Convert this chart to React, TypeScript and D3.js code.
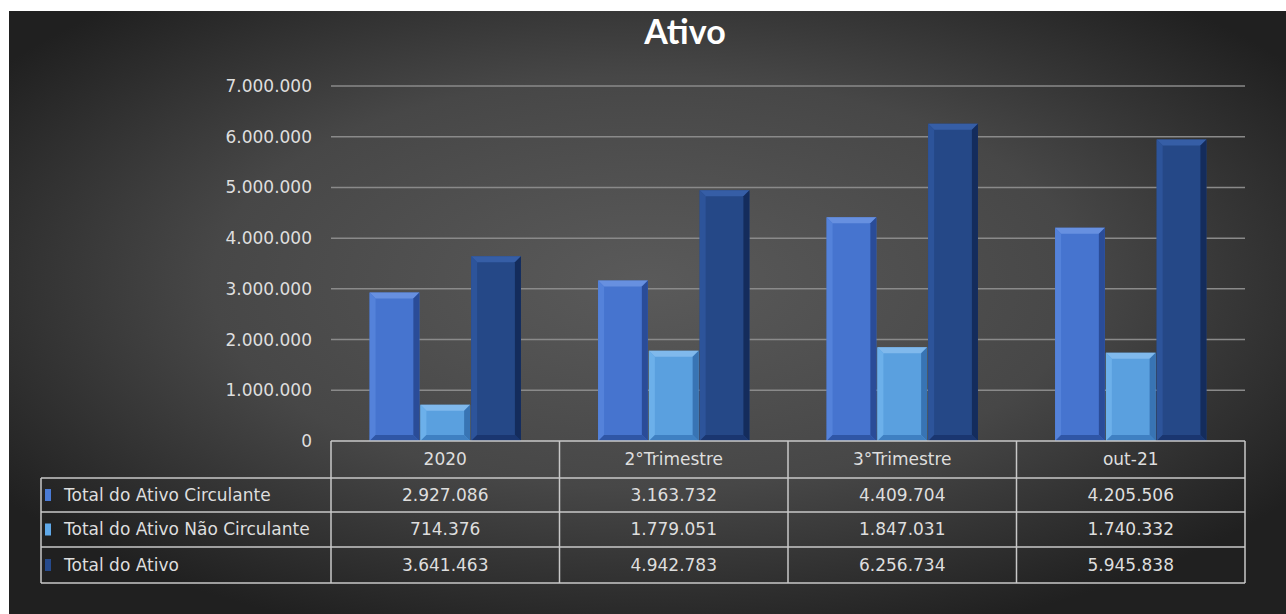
import React from "react";
import * as d3 from "d3";

const categories = ["2020", "2°Trimestre", "3°Trimestre", "out-21"];
const seriesNames = ["Total do Ativo Circulante", "Total do Ativo Não Circulante", "Total do Ativo"];
const circulante = [2927086, 3163732, 4409704, 4205506];
const naoCirculante = [714376, 1779051, 1847031, 1740332];
const totalAtivo = [3641463, 4942783, 6256734, 5945838];
const yTicks = [0, 1000000, 2000000, 3000000, 4000000, 5000000, 6000000, 7000000];

const seriesValues = [circulante, naoCirculante, totalAtivo];
const palette = [
  { face: "#4674cf", top: "#6790e0", left: "#5482da", right: "#2a4c98", bottom: "#2f56a6", key: "#4a7bd6" },
  { face: "#5aa0df", top: "#80b9ec", left: "#6cb0ea", right: "#3874b4", bottom: "#3f80c2", key: "#5fa8e8" },
  { face: "#254887", top: "#365ea6", left: "#2d549a", right: "#142c5c", bottom: "#1a3670", key: "#264a8c" },
];

const W = 1286, H = 614;
const plotL = 331, plotR = 1245, plotT = 86, plotB = 441;
const tableL = 41;
const rowTops = [441, 478, 512, 547, 583];

const loc = d3.formatLocale({ decimal: ",", thousands: ".", grouping: [3], currency: ["", ""] });
const fmt = loc.format(",d");

function Bar({ x, y, w, h, c }: { x: number; y: number; w: number; h: number; c: any }) {
  const b = Math.min(6, h / 2);
  const x2 = x + w, y2 = y + h;
  return (
    <g>
      <rect x={x} y={y} width={w} height={h} fill={c.face} />
      <polygon points={`${x},${y} ${x2},${y} ${x2 - b},${y + b} ${x + b},${y + b}`} fill={c.top} />
      <polygon points={`${x},${y} ${x + b},${y + b} ${x + b},${y2 - b} ${x},${y2}`} fill={c.left} />
      <polygon points={`${x2},${y} ${x2},${y2} ${x2 - b},${y2 - b} ${x2 - b},${y + b}`} fill={c.right} />
      <polygon points={`${x},${y2} ${x2},${y2} ${x2 - b},${y2 - b} ${x + b},${y2 - b}`} fill={c.bottom} />
    </g>
  );
}

export default function App() {
  const y = d3.scaleLinear().domain([0, 7000000]).range([plotB, plotT]);
  const x = d3.scaleBand<string>().domain(categories).range([plotL, plotR]).padding(0);
  const xs = d3.scaleBand<string>().domain(seriesNames).range([0, x.bandwidth()]).paddingInner(0.02).paddingOuter(0.76);
  const font = "'DejaVu Sans', sans-serif";
  const titleFont = "Lato, 'Open Sans', sans-serif";
  const txt = "#dedede";
  const line = "#c8c8c8";
  const fs = 17;

  return (
    <svg width={W} height={H} style={{ position: "absolute", left: 0, top: 0, display: "block" }} fontFamily={font}>
      <defs>
        <radialGradient id="bg" cx="50%" cy="45%" r="62%" fx="50%" fy="45%">
          <stop offset="0%" stopColor="#5a5a5a" />
          <stop offset="55%" stopColor="#474747" />
          <stop offset="100%" stopColor="#202020" />
        </radialGradient>
      </defs>
      <rect x={0} y={0} width={W} height={H} fill="#ffffff" />
      <rect x={9} y={11} width={W - 9} height={H - 11} fill="url(#bg)" />
      <text x={685} y={44} textAnchor="middle" fill="#ffffff" fontSize={34} fontWeight="bold" fontFamily={titleFont}>Ativo</text>

      {yTicks.map((t) => (
        <g key={t}>
          {t > 0 && <line x1={plotL} x2={plotR} y1={y(t)} y2={y(t)} stroke="#8a8a8a" strokeWidth={1.5} />}
          <text x={312} y={y(t)} dy="0.35em" textAnchor="end" fill={txt} fontSize={fs}>{fmt(t)}</text>
        </g>
      ))}

      {categories.map((cat, i) => (
        <g key={cat}>
          {seriesNames.map((s, j) => {
            const v = seriesValues[j][i];
            const bx = (x(cat) as number) + (xs(s) as number);
            return <Bar key={s} x={bx} y={y(v)} w={xs.bandwidth()} h={plotB - y(v)} c={palette[j]} />;
          })}
        </g>
      ))}

      {/* data table */}
      <g stroke={line} strokeWidth={1.5} fill="none">
        <line x1={plotL} x2={plotR} y1={rowTops[0]} y2={rowTops[0]} />
        {rowTops.slice(1).map((r) => (
          <line key={r} x1={tableL} x2={plotR} y1={r} y2={r} />
        ))}
        <line x1={tableL} x2={tableL} y1={rowTops[1]} y2={rowTops[4]} />
        {categories.map((c) => (
          <line key={c} x1={x(c) as number} x2={x(c) as number} y1={rowTops[0]} y2={rowTops[4]} />
        ))}
        <line x1={plotR} x2={plotR} y1={rowTops[0]} y2={rowTops[4]} />
      </g>
      {categories.map((c) => (
        <text key={c} x={(x(c) as number) + x.bandwidth() / 2} y={(rowTops[0] + rowTops[1]) / 2} dy="0.35em" textAnchor="middle" fill={txt} fontSize={fs}>{c}</text>
      ))}
      {seriesNames.map((s, j) => {
        const cy = (rowTops[j + 1] + rowTops[j + 2]) / 2;
        return (
          <g key={s}>
            <rect x={45} y={cy - 6} width={6} height={12} fill={palette[j].key} />
            <text x={64} y={cy} dy="0.35em" fill={txt} fontSize={fs}>{s}</text>
            {categories.map((c, i) => (
              <text key={c} x={(x(c) as number) + x.bandwidth() / 2} y={cy} dy="0.35em" textAnchor="middle" fill={txt} fontSize={fs}>{fmt(seriesValues[j][i])}</text>
            ))}
          </g>
        );
      })}
    </svg>
  );
}
